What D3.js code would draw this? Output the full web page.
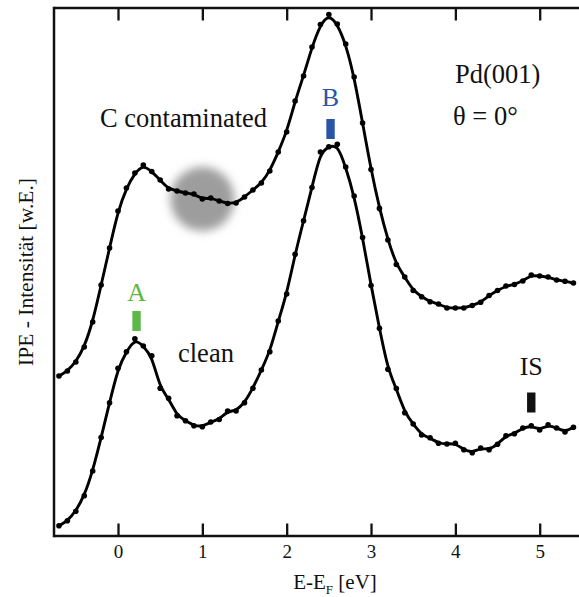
<!DOCTYPE html>
<html>
<head>
<meta charset="utf-8">
<script src="https://cdn.jsdelivr.net/npm/d3@7"></script>
<style>
  html, body { margin: 0; padding: 0; background: #fff; }
  svg { display: block; }
  text { font-family: "Liberation Serif", "Times New Roman", Times, serif; fill: #111; }
</style>
</head>
<body>
<svg id="chart" width="579" height="597"></svg>
<script>
// Photon energy grid (eV above E_F), 0.1 eV steps
const energies = d3.range(-7, 55).map(i => i / 10);

// IPE intensity, carbon-contaminated Pd(001) (arbitrary units)
const contaminated = [
  160, 165, 174, 189, 214, 251, 288, 325, 348, 363,
  371, 364.5, 356, 347, 345, 343, 342, 337, 338, 335,
  332.5, 333, 339, 346, 353, 365, 384, 404, 435, 460,
  489, 511.5, 521.5, 512, 492, 459, 413, 366.5, 327.6, 296,
  271.5, 259, 245.5, 239.3, 234.3, 232, 228, 228, 228, 230.5,
  233.7, 240.5, 245.5, 250, 251.5, 255, 261, 260, 259, 256,
  254.7, 253
];

// IPE intensity, clean Pd(001) (arbitrary units)
const clean = [
  10.2, 15.2, 24.7, 40.3, 65, 98.5, 133.3, 167.7, 184.3, 197.3,
  190, 180.2, 147.7, 137.7, 120.2, 115.3, 110.3, 109.3, 114, 116.5,
  125, 125, 133.3, 147.7, 166, 184.3, 215, 242, 281.8, 315.3,
  348.5, 384, 389.3, 391.8, 369, 340, 298.5, 250.5, 207.7, 166.7,
  147.5, 123.3, 112, 101, 98.2, 92.7, 92, 92.7, 86.2, 83.3,
  88, 86.3, 91.7, 100.3, 102.3, 108, 110.2, 106, 111.2, 108,
  104, 108.8
];

// x-axis ticks
const xTicks = [0, 1, 2, 3, 4, 5];

// Peak markers: label, energy, marker colour
const peakLabels = ["A", "B", "IS"];
const peakEnergies = [0.22, 2.52, 4.9];
const peakColors = ["#5cb946", "#2a55a6", "#111111"];

const svg = d3.select("#chart");
const W = 579, H = 597;
const plot = { left: 54, top: 8, bottom: 536 };
const serif = "Liberation Serif, Times New Roman, Times, serif";

const x = d3.scaleLinear().domain([0, 5]).range([118, 539.7]);
const y = d3.scaleLinear().domain([0, 528]).range([plot.bottom, plot.top]);
const xMax = x.invert(W + 2);

// blurred grey spot on the contaminated trace
const defs = svg.append("defs");
defs.append("filter").attr("id", "soft")
  .attr("x", "-50%").attr("y", "-50%").attr("width", "200%").attr("height", "200%")
  .append("feGaussianBlur").attr("stdDeviation", 5);
defs.append("clipPath").attr("id", "plotClip")
  .append("rect").attr("x", plot.left).attr("y", plot.top)
  .attr("width", W - plot.left).attr("height", plot.bottom - plot.top);

svg.append("circle")
  .attr("cx", x(1.0)).attr("cy", y(337))
  .attr("r", 32)
  .attr("fill", "#9d9d9d")
  .attr("filter", "url(#soft)");

// axes frame: left, top, bottom
const frame = svg.append("g").attr("stroke", "#111").attr("stroke-width", 2.5).attr("fill", "none");
frame.append("line").attr("x1", plot.left).attr("x2", plot.left).attr("y1", plot.top - 1.25).attr("y2", plot.bottom + 1.25);
frame.append("line").attr("x1", plot.left).attr("x2", x(xMax)).attr("y1", plot.top).attr("y2", plot.top);
frame.append("line").attr("x1", plot.left).attr("x2", x(xMax)).attr("y1", plot.bottom).attr("y2", plot.bottom);

// bottom axis with inward ticks
const bottomAxis = svg.append("g")
  .attr("transform", `translate(0,${plot.bottom})`)
  .call(d3.axisBottom(x).tickValues(xTicks).tickSizeInner(-12.5).tickSizeOuter(0).tickPadding(9).tickFormat(d3.format("d")));
bottomAxis.select(".domain").remove();
bottomAxis.attr("font-family", serif);
bottomAxis.selectAll(".tick line").attr("stroke", "#111").attr("stroke-width", 2.3);
bottomAxis.selectAll(".tick text")
  .attr("font-family", serif)
  .attr("font-size", 19).attr("fill", "#111");

// top axis, ticks only
const topAxis = svg.append("g")
  .attr("transform", `translate(0,${plot.top})`)
  .call(d3.axisTop(x).tickValues(xTicks).tickSizeInner(-12.5).tickSizeOuter(0).tickFormat(""));
topAxis.select(".domain").remove();
topAxis.selectAll(".tick line").attr("stroke", "#111").attr("stroke-width", 2.3);

// axis titles
const xt = svg.append("text")
  .attr("x", 335).attr("y", 589)
  .attr("text-anchor", "middle")
  .attr("font-size", 21);
xt.append("tspan").text("E-E");
xt.append("tspan").attr("font-size", 13).attr("dy", 5).text("F");
xt.append("tspan").attr("dy", -5).text(" [eV]");

svg.append("text")
  .attr("transform", `translate(33,${(plot.top + plot.bottom) / 2}) rotate(-90)`)
  .attr("text-anchor", "middle")
  .attr("font-size", 21.5)
  .text("IPE - Intensität [w.E.]");

// spectra: smoothed line plus measured points
const series = [contaminated, clean];
const line = d3.line()
  .x((d, i) => x(energies[i]))
  .y(d => y(d))
  .curve(d3.curveBasis);

const traces = svg.append("g").attr("clip-path", "url(#plotClip)");
series.forEach(vals => {
  traces.append("path")
    .attr("d", line(vals))
    .attr("fill", "none")
    .attr("stroke", "#000")
    .attr("stroke-width", 2.9)
    .attr("stroke-linejoin", "round");
  traces.append("g").selectAll("circle")
    .data(vals)
    .join("circle")
    .attr("cx", (d, i) => x(energies[i]))
    .attr("cy", d => y(d))
    .attr("r", 2.8)
    .attr("fill", "#000");
});

// peak markers and labels
const markerTop = [225, 417, 143.5];  // intensity level of marker top
const labelBase = [235, 430, 161];    // intensity level of label baseline
peakLabels.forEach((lab, i) => {
  const cx = x(peakEnergies[i]);
  svg.append("rect")
    .attr("x", cx - 4.2).attr("y", y(markerTop[i]))
    .attr("width", 8.4).attr("height", 20)
    .attr("fill", peakColors[i]);
  svg.append("text")
    .attr("x", cx).attr("y", y(labelBase[i]))
    .attr("text-anchor", "middle")
    .attr("font-size", 26)
    .style("fill", i === 2 ? "#111" : peakColors[i])
    .text(lab);
});

// curve and sample annotations
svg.append("text").attr("x", 100).attr("y", 127).attr("font-size", 26.5).text("C contaminated");
svg.append("text").attr("x", 178).attr("y", 362).attr("font-size", 26.5).text("clean");
svg.append("text").attr("x", 455).attr("y", 83).attr("font-size", 26.5).text("Pd(001)");
svg.append("text").attr("x", 453).attr("y", 125).attr("font-size", 26.5).text("θ = 0°");
</script>
</body>
</html>
